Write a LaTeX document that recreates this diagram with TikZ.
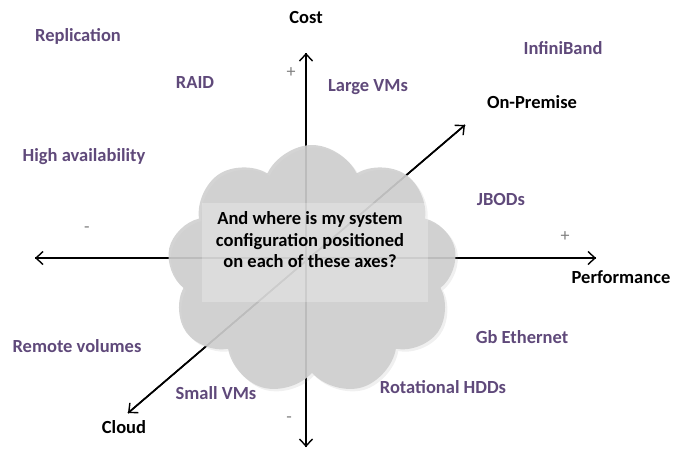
\documentclass[tikz,border=0pt]{standalone}
\usepackage{fontspec}
\setmainfont{Carlito}
\usetikzlibrary{arrows.meta,shapes.symbols,shadows}
\definecolor{lblpurple}{HTML}{5F497A}
\definecolor{cloudgray}{HTML}{CFCFCF}
\tikzset{
  axis/.style={line width=1.6pt,-{Straight Barb[length=7pt,width=13pt,line width=1.4pt]}},
  lbl/.style={text=lblpurple,font=\fontsize{18.5}{20}\selectfont\bfseries,inner sep=0pt},
  axlbl/.style={text=black,font=\fontsize{18.5}{20}\selectfont\bfseries,inner sep=0pt},
  sign/.style={text=gray,font=\fontsize{18}{20}\selectfont,inner sep=0pt},
}
\begin{document}
\begin{tikzpicture}[x=1pt,y=-1pt]
\useasboundingbox (0,0) rectangle (684,450);
% axis ends
\coordinate (top) at (306,53);
\coordinate (bot) at (306,447);
\coordinate (left) at (35,258);
\coordinate (right) at (596,258);
\coordinate (cl) at (128,413);
\coordinate (op) at (465,125);
\draw[axis] (bot) -- (top);
\draw[axis] (top) -- (bot);
\draw[axis] (right) -- (left);
\draw[axis] (left) -- (right);
\draw[axis] (cl) -- (op);
\draw[axis] (op) -- (cl);
% cloud
\node[cloud, cloud puffs=9, cloud puff arc=130, aspect=1.15, minimum width=290pt, minimum height=250pt,
      fill=cloudgray, fill opacity=0.9, draw=none, drop shadow={opacity=0.12}] (cld) at (312,270) {};
\node[fill=white, fill opacity=0.25, minimum width=226pt, minimum height=99pt, inner sep=0pt] (box) at (315,252) {};
\node[axlbl, align=center, font=\fontsize{18.5}{21.5}\selectfont\bfseries] (q) at (310,240)
  {And where is my system\\configuration positioned\\on each of these axes?};
% axis labels
\node[axlbl] (cost) at (306,18) {Cost};
\node[axlbl] (onp) at (532,102) {On-Premise};
\node[axlbl] (perf) at (621,277) {Performance};
\node[axlbl] (cloud) at (124,427) {Cloud};
% signs
\node[sign] (p1) at (291,73) {+};
\node[sign] (p2) at (565,237) {+};
\node[sign] (m1) at (87,230) {-};
\node[sign] (m2) at (289,420) {-};
% purple labels
\node[lbl] (repl) at (78,36) {Replication};
\node[lbl] (raid) at (195,82) {RAID};
\node[lbl] (lvm) at (368,87) {Large VMs};
\node[lbl] (ib) at (563,48) {InfiniBand};
\node[lbl] (ha) at (84,157) {High availability};
\node[lbl] (jb) at (501,199) {JBODs};
\node[lbl] (rv) at (77,346) {Remote volumes};
\node[lbl] (gbe) at (522,337) {Gb Ethernet};
\node[lbl] (hdd) at (443,387) {Rotational HDDs};
\node[lbl] (svm) at (216,393) {Small VMs};
\end{tikzpicture}
\end{document}
